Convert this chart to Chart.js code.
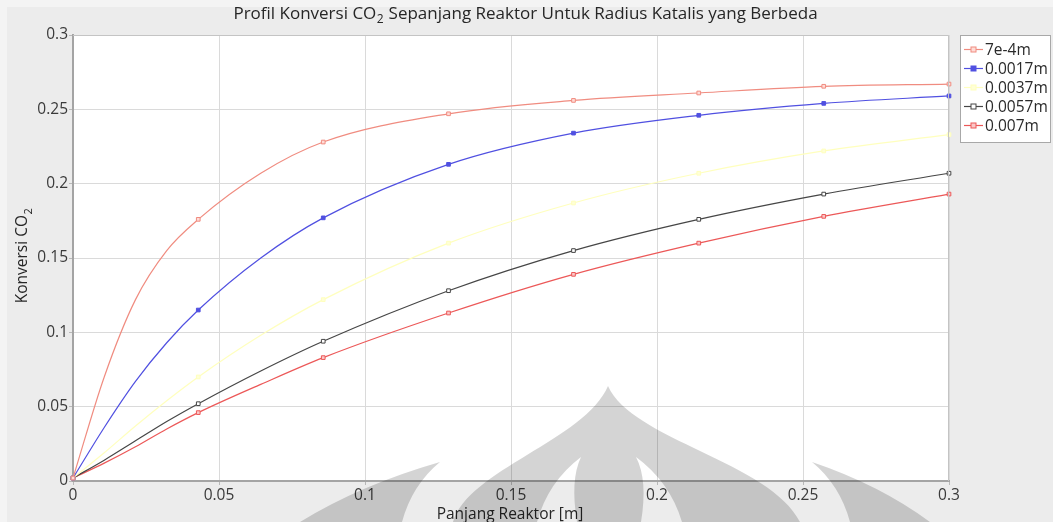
<!DOCTYPE html>
<html>
<head>
<meta charset="utf-8">
<script src="https://cdn.jsdelivr.net/npm/chart.js@4.4.1/dist/chart.umd.min.js"></script>
<style>
  html, body { margin: 0; padding: 0; background: #eeeeee; }
  #wrap { width: 1053px; height: 522px; }
  canvas { display: block; }
</style>
</head>
<body>
<div id="wrap"><canvas id="grafik" width="1053" height="522"></canvas></div>
<script>
// Panjang reaktor (m) tempat nilai konversi dibaca
const panjang = [0, 0.0107, 0.0214, 0.0321, 0.0429, 0.0643, 0.0857, 0.1286, 0.1714, 0.2143, 0.2571, 0.3];
// titik yang diberi penanda kotak
const penanda = [true, false, false, false, true, false, true, true, true, true, true, true];

// Radius katalis
const radiusKatalis = ['7e-4m', '0.0017m', '0.0037m', '0.0057m', '0.007m'];

// Konversi CO2 untuk tiap radius katalis
const konversiR1 = [0.002, 0.070, 0.122, 0.155, 0.176, 0.207, 0.228, 0.247, 0.256, 0.261, 0.2655, 0.267];
const konversiR2 = [0.002, 0.036, 0.067, 0.093, 0.115, 0.150, 0.177, 0.213, 0.234, 0.246, 0.254, 0.259];
const konversiR3 = [0.002, 0.019, 0.037, 0.054, 0.070, 0.098, 0.122, 0.160, 0.187, 0.207, 0.222, 0.233];
const konversiR4 = [0.002, 0.014, 0.027, 0.040, 0.052, 0.074, 0.094, 0.128, 0.155, 0.176, 0.193, 0.207];
const konversiR5 = [0.002, 0.012, 0.023, 0.035, 0.046, 0.065, 0.083, 0.113, 0.139, 0.160, 0.178, 0.193];

// Label sumbu
const labelX = ['0', '0.05', '0.1', '0.15', '0.2', '0.25', '0.3'];
const labelY = ['0', '0.05', '0.1', '0.15', '0.2', '0.25', '0.3'];

const semuaKonversi = [konversiR1, konversiR2, konversiR3, konversiR4, konversiR5];
const warnaGaris = ['rgb(240,140,128)', 'rgb(80,80,225)', 'rgb(255,255,190)', 'rgb(70,70,70)', 'rgb(236,88,88)'];
const isiPenanda = ['rgb(255,220,215)', 'rgb(80,80,225)', 'rgb(255,255,215)', '#ffffff', 'rgb(250,200,200)'];

const FONT = '"Open Sans", "Noto Sans", sans-serif';

const datasets = radiusKatalis.map((label, i) => ({
  label,
  data: panjang.map((x, j) => ({ x, y: semuaKonversi[i][j] })),
  borderColor: warnaGaris[i],
  backgroundColor: isiPenanda[i],
  pointBorderColor: warnaGaris[i],
  pointBackgroundColor: isiPenanda[i],
  borderWidth: 1.2,
  pointBorderWidth: 1,
  pointStyle: 'rect',
  pointRadius: c => (penanda[c.dataIndex] ? 2.6 : 0),
  cubicInterpolationMode: 'monotone',
  fill: false,
  clip: 6
}));

// latar panel dan area plot
const latar = {
  id: 'latar',
  beforeDraw(chart) {
    const { ctx, chartArea: a } = chart;
    ctx.save();
    ctx.fillStyle = '#f4f4f4';
    ctx.fillRect(0, 0, chart.width, chart.height);
    ctx.fillStyle = '#ececec';
    ctx.fillRect(7, 7, chart.width - 7, chart.height - 7);
    ctx.fillStyle = '#ffffff';
    ctx.fillRect(a.left, a.top, a.right - a.left, a.bottom - a.top);
    ctx.restore();
  },
  afterDatasetsDraw(chart) {
    const { ctx, chartArea: a } = chart;
    ctx.save();
    ctx.strokeStyle = '#c4c4c4';
    ctx.lineWidth = 1;
    ctx.beginPath();
    ctx.moveTo(a.left, a.top + 0.5);
    ctx.lineTo(a.right - 0.5, a.top + 0.5);
    ctx.lineTo(a.right - 0.5, a.bottom);
    ctx.stroke();
    ctx.restore();
  }
};

// teks dengan subskrip angka 2
function teksSubskrip(ctx, bagian, x, y, ukuran) {
  const besar = ukuran + 'px ' + FONT, kecil = Math.round(ukuran * 0.7) + 'px ' + FONT;
  ctx.font = besar;
  const w0 = ctx.measureText(bagian[0]).width;
  const w2 = ctx.measureText(bagian[2]).width;
  ctx.font = kecil;
  const w1 = ctx.measureText(bagian[1]).width;
  const x0 = x - (w0 + w1 + w2) / 2;
  ctx.textAlign = 'left';
  ctx.textBaseline = 'middle';
  ctx.font = besar;
  ctx.fillText(bagian[0], x0, y);
  ctx.font = kecil;
  ctx.fillText(bagian[1], x0 + w0 + 0.5, y + 6);
  ctx.font = besar;
  ctx.fillText(bagian[2], x0 + w0 + w1 + 1, y);
}

const judul = {
  id: 'judul',
  afterDraw(chart) {
    const { ctx, chartArea: a } = chart;
    ctx.save();
    ctx.fillStyle = '#262626';
    teksSubskrip(ctx, ['Profil Konversi CO', '2', ' Sepanjang Reaktor Untuk Radius Katalis yang Berbeda'], 525, 14, 17);

    ctx.save();
    ctx.translate(23, 256);
    ctx.rotate(-Math.PI / 2);
    teksSubskrip(ctx, ['Konversi CO', '2', ''], 0, 0, 15.5);
    ctx.restore();

    ctx.font = '15.5px ' + FONT;
    ctx.textAlign = 'center';
    ctx.textBaseline = 'middle';
    ctx.fillText('Panjang Reaktor [m]', (a.left + a.right) / 2 - 1, 515);
    ctx.restore();
  }
};

// kotak legenda di kanan area plot
const legenda = {
  id: 'legenda',
  afterDraw(chart) {
    const { ctx } = chart;
    const kx = 960, ky = 35, kw = 90, kh = 107;
    ctx.save();
    ctx.fillStyle = '#ffffff';
    ctx.fillRect(kx, ky, kw, kh);
    ctx.strokeStyle = '#a8a8a8';
    ctx.lineWidth = 1;
    ctx.strokeRect(kx + 0.5, ky + 0.5, kw, kh);
    chart.data.datasets.forEach((ds, i) => {
      const y = ky + 14.5 + i * 19;
      ctx.strokeStyle = ds.borderColor;
      ctx.lineWidth = 1.2;
      ctx.beginPath();
      ctx.moveTo(kx + 4, y);
      ctx.lineTo(kx + 23, y);
      ctx.stroke();
      ctx.fillStyle = ds.pointBackgroundColor;
      ctx.fillRect(kx + 11, y - 2.5, 5, 5);
      ctx.strokeStyle = ds.pointBorderColor;
      ctx.lineWidth = 1;
      ctx.strokeRect(kx + 11, y - 2.5, 5, 5);
      ctx.fillStyle = '#2a2a2a';
      ctx.font = '15.5px ' + FONT;
      ctx.textAlign = 'left';
      ctx.textBaseline = 'middle';
      ctx.fillText(ds.label, kx + 25, y + 1);
    });
    ctx.restore();
  }
};

// lambang abu-abu transparan di bagian bawah
const lambang = {
  id: 'lambang',
  afterDraw(chart) {
    const { ctx } = chart;
    ctx.save();
    ctx.fillStyle = 'rgba(0,0,0,0.17)';
    ctx.beginPath();
    // kubah
    ctx.moveTo(453, 522);
    ctx.bezierCurveTo(468, 470, 585, 440, 608, 386);
    ctx.bezierCurveTo(632, 440, 770, 462, 800, 522);
    ctx.closePath();
    // lengkung dalam kiri
    ctx.moveTo(581, 457);
    ctx.quadraticCurveTo(548, 482, 537, 522);
    ctx.lineTo(577, 522);
    ctx.quadraticCurveTo(570, 480, 581, 457);
    ctx.closePath();
    // lengkung dalam kanan
    ctx.moveTo(636, 457);
    ctx.quadraticCurveTo(670, 482, 682, 522);
    ctx.lineTo(641, 522);
    ctx.quadraticCurveTo(648, 480, 636, 457);
    ctx.closePath();
    ctx.fill('evenodd');
    // sayap kiri
    ctx.beginPath();
    ctx.moveTo(440, 462);
    ctx.quadraticCurveTo(360, 485, 300, 522);
    ctx.lineTo(402, 522);
    ctx.quadraticCurveTo(412, 485, 440, 462);
    ctx.closePath();
    ctx.fill();
    // sayap kanan
    ctx.beginPath();
    ctx.moveTo(812, 462);
    ctx.quadraticCurveTo(840, 485, 850, 522);
    ctx.lineTo(930, 522);
    ctx.quadraticCurveTo(880, 485, 812, 462);
    ctx.closePath();
    ctx.fill();
    ctx.restore();
  }
};

const teksTick = { size: 15.5, family: FONT };

new Chart(document.getElementById('grafik'), {
  type: 'line',
  data: { datasets },
  options: {
    responsive: false,
    animation: false,
    events: [],
    layout: { padding: { top: 35, right: 104, left: 0, bottom: 0 } },
    plugins: { legend: { display: false }, title: { display: false }, tooltip: { enabled: false } },
    scales: {
      x: {
        type: 'linear',
        min: 0,
        max: 0.3,
        afterFit(s) { s.height = 41; },
        afterBuildTicks(s) { s.ticks = labelX.map(t => ({ value: parseFloat(t) })); },
        ticks: {
          color: '#3a3a3a',
          font: teksTick,
          padding: 1,
          maxRotation: 0,
          callback: (v, i) => labelX[i]
        },
        grid: { color: '#dadada', lineWidth: 1, tickLength: 4, tickColor: '#b8b8b8' },
        border: { color: '#a4a4a4', width: 2 }
      },
      y: {
        type: 'linear',
        min: 0,
        max: 0.3,
        afterFit(s) { s.width = 73; },
        afterBuildTicks(s) { s.ticks = labelY.map(t => ({ value: parseFloat(t) })); },
        ticks: {
          color: '#3a3a3a',
          font: teksTick,
          padding: 1,
          callback: (v, i) => labelY[i]
        },
        grid: { color: '#dadada', lineWidth: 1, tickLength: 4, tickColor: '#b8b8b8' },
        border: { color: '#a4a4a4', width: 2 }
      }
    }
  },
  plugins: [latar, judul, legenda, lambang]
});
</script>
</body>
</html>
